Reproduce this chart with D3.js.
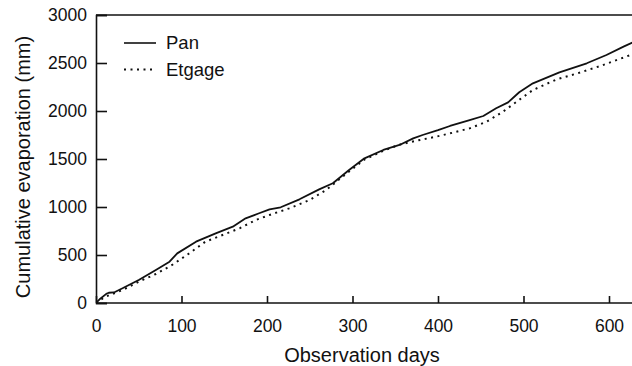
<!DOCTYPE html>
<html lang="en">
<head>
  <meta charset="UTF-8">
  <title>Cumulative evaporation</title>
  <script src="https://d3js.org/d3.v7.min.js"></script>
  <style>
    body {
      margin: 0;
      background: #fff;
    }
    text {
      font-family: "Liberation Sans", Arial, sans-serif;
      fill: #111;
    }
  </style>
</head>
<body>
  <script>
    // Values
    const panDays = [0, 5, 12, 15, 21, 31, 50, 70, 86, 95, 117, 140, 160, 175, 190, 203, 216, 238, 261, 277,
      296, 314, 336, 355, 371, 382, 400, 414, 437, 453, 468, 482, 495, 511, 542, 574, 597, 617, 630];
    const panMm = [0, 45, 95, 107, 110, 153, 240, 344, 430, 517, 639, 726, 795, 882, 932, 976, 997, 1080, 1184, 1247,
      1385, 1507, 1594, 1646, 1715, 1750, 1800, 1844, 1906, 1948, 2028, 2090, 2195, 2288, 2403, 2497, 2583, 2670, 2725];

    const etDays = [0, 11, 31, 50, 70, 89, 109, 128, 148, 168, 187, 203, 226, 250, 269, 296, 314, 336, 355,
      375, 398, 414, 437, 457, 476, 492, 511, 539, 563, 590, 625, 630];
    const etMm = [0, 66, 135, 222, 302, 396, 517, 639, 708, 778, 865, 917, 986, 1073, 1177, 1370, 1495, 1585, 1650,
      1691, 1733, 1767, 1819, 1889, 1993, 2097, 2219, 2330, 2392, 2469, 2583, 2592];

    const xTicks = [0, 100, 200, 300, 400, 500, 600];
    const yTicks = [0, 500, 1000, 1500, 2000, 2500, 3000];
    const seriesNames = ["Pan", "Etgage"];

    const width = 632;
    const height = 366;

    const svg = d3.select("body")
      .append("svg")
      .attr("width", width)
      .attr("height", height);

    const x = d3.scaleLinear().domain([0, 600]).range([96, 609]);
    const y = d3.scaleLinear().domain([0, 3000]).range([303, 15]);

    // frame: top and left edges (right edge falls outside the picture)
    svg.append("line")
      .attr("x1", x(0)).attr("x2", width + 5)
      .attr("y1", y(3000)).attr("y2", y(3000))
      .attr("stroke", "#111").attr("stroke-width", 1.6);

    // axes, ticks inward
    const xAxis = svg.append("g")
      .attr("transform", `translate(0,${y(0)})`)
      .call(d3.axisBottom(x).tickValues(xTicks).tickSize(-7).tickPadding(17).tickFormat(d3.format("d")));
    xAxis.select(".domain").attr("d", `M${x(0)},0H${width + 5}`);

    const yAxis = svg.append("g")
      .attr("transform", `translate(${x(0)},0)`)
      .call(d3.axisLeft(y).tickValues(yTicks).tickSize(-11).tickPadding(20).tickFormat(d3.format("d")));

    svg.selectAll(".tick line, .domain")
      .attr("stroke", "#111")
      .attr("stroke-width", 1.6);
    xAxis.selectAll(".tick text")
      .attr("font-size", "17.5px")
      .attr("fill", "#111");
    yAxis.selectAll(".tick text")
      .attr("font-size", "17.5px")
      .attr("fill", "#111")
      .attr("x", 87 - x(0));

    // curves
    const line = d3.line()
      .x(d => x(d[0]))
      .y(d => y(d[1]));

    svg.append("clipPath").attr("id", "plot")
      .append("rect")
      .attr("x", x(0)).attr("y", y(3000))
      .attr("width", width - x(0)).attr("height", y(0) - y(3000));

    svg.append("path")
      .datum(etDays.map((d, i) => [d, etMm[i]]))
      .attr("clip-path", "url(#plot)")
      .attr("fill", "none")
      .attr("stroke", "#111")
      .attr("stroke-width", 2)
      .attr("stroke-dasharray", "2,4.5")
      .attr("d", line);

    svg.append("path")
      .datum(panDays.map((d, i) => [d, panMm[i]]))
      .attr("clip-path", "url(#plot)")
      .attr("fill", "none")
      .attr("stroke", "#111")
      .attr("stroke-width", 1.8)
      .attr("stroke-linejoin", "round")
      .attr("d", line);

    // legend
    const legend = svg.append("g");
    seriesNames.forEach((name, i) => {
      const ly = 43 + i * 26.5;
      legend.append("line")
        .attr("x1", 124).attr("x2", 156)
        .attr("y1", ly).attr("y2", ly)
        .attr("stroke", "#111")
        .attr("stroke-width", i === 0 ? 1.6 : 2)
        .attr("stroke-dasharray", i === 0 ? null : "2,4.5");
      legend.append("text")
        .attr("x", 166).attr("y", ly)
        .attr("dy", "0.35em")
        .attr("font-size", "18.5px")
        .text(name);
    });

    // axis titles
    svg.append("text")
      .attr("x", 362).attr("y", 362)
      .attr("text-anchor", "middle")
      .attr("font-size", "20px")
      .text("Observation days");

    svg.append("text")
      .attr("transform", "translate(30,167) rotate(-90)")
      .attr("text-anchor", "middle")
      .attr("font-size", "20px")
      .text("Cumulative evaporation (mm)");
  </script>
</body>
</html>
